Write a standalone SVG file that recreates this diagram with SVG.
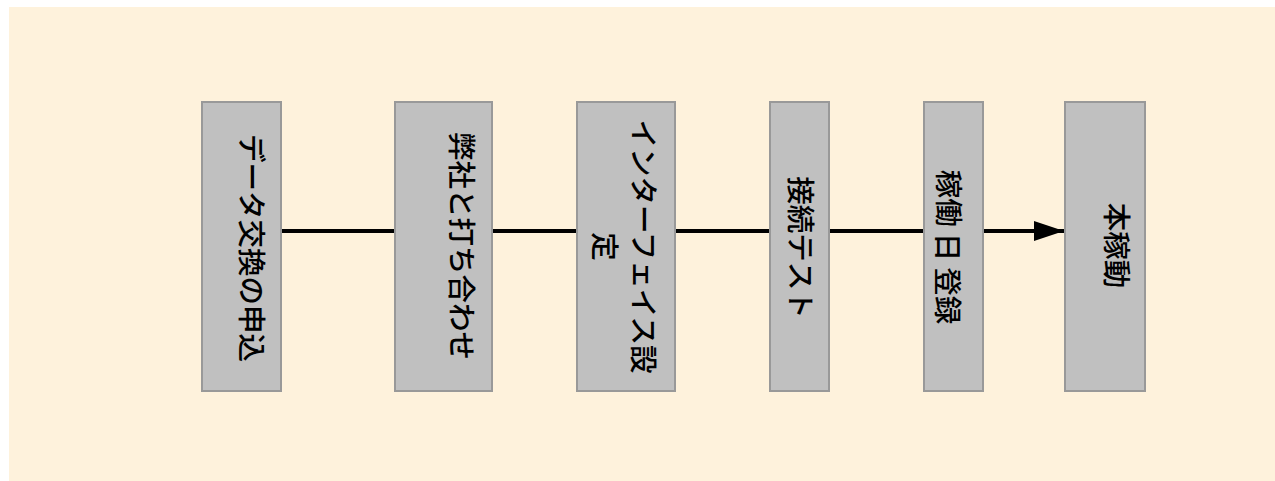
<svg xmlns="http://www.w3.org/2000/svg" width="1275" height="481" viewBox="0 0 1275 481">
<style>
.box{fill:#c0c0c0;stroke:#999999;stroke-width:2}
.lbl{font-family:"Noto Sans CJK JP","Noto Sans",sans-serif;font-size:28.5px;font-weight:500;fill:#000;text-anchor:middle;dominant-baseline:central}
.edge{stroke:#000;stroke-width:4;fill:none}
</style>
<defs>
<marker id="arrow" markerUnits="userSpaceOnUse" markerWidth="32" markerHeight="22" refX="30" refY="10" orient="auto" viewBox="0 0 32 22">
<path d="M0,0 L30,10 L0,20 Z" fill="#000"/>
</marker>
</defs>
<rect x="9" y="7" width="1266" height="474" fill="#fef2dc"/>
<g id="connectors">
<line class="edge" x1="281" y1="231" x2="395" y2="231"/>
<line class="edge" x1="492" y1="231" x2="577" y2="231"/>
<line class="edge" x1="675" y1="231" x2="770" y2="231"/>
<line class="edge" x1="829" y1="231" x2="924" y2="231"/>
<line class="edge" x1="983" y1="231" x2="1064" y2="231" marker-end="url(#arrow)"/>
</g>
<g id="n1">
<rect class="box" x="202" y="102" width="79" height="289"/>
<text class="lbl" x="253" y="248" transform="rotate(90 253 248)">データ交換の申込</text>
</g>
<g id="n2">
<rect class="box" x="395" y="102" width="97" height="289"/>
<text class="lbl" x="463" y="246" transform="rotate(90 463 246)">弊社と打ち合わせ</text>
</g>
<g id="n3">
<rect class="box" x="577" y="102" width="98" height="289"/>
<text class="lbl" transform="rotate(90 626 246.5)"><tspan x="626" y="227">インターフェイス設</tspan><tspan x="626" y="266">定</tspan></text>
</g>
<g id="n4">
<rect class="box" x="770" y="102" width="59" height="289"/>
<text class="lbl" x="802" y="247.5" transform="rotate(90 802 247.5)">接続テスト</text>
</g>
<g id="n5">
<rect class="box" x="924" y="102" width="59" height="289"/>
<text class="lbl" x="950" y="247" transform="rotate(90 950 247)">稼働<tspan dx="6">日</tspan><tspan dx="6">登録</tspan></text>
</g>
<g id="n6">
<rect class="box" x="1065" y="102" width="80" height="289"/>
<text class="lbl" x="1118" y="245.5" transform="rotate(90 1118 245.5)">本稼動</text>
</g>
</svg>
